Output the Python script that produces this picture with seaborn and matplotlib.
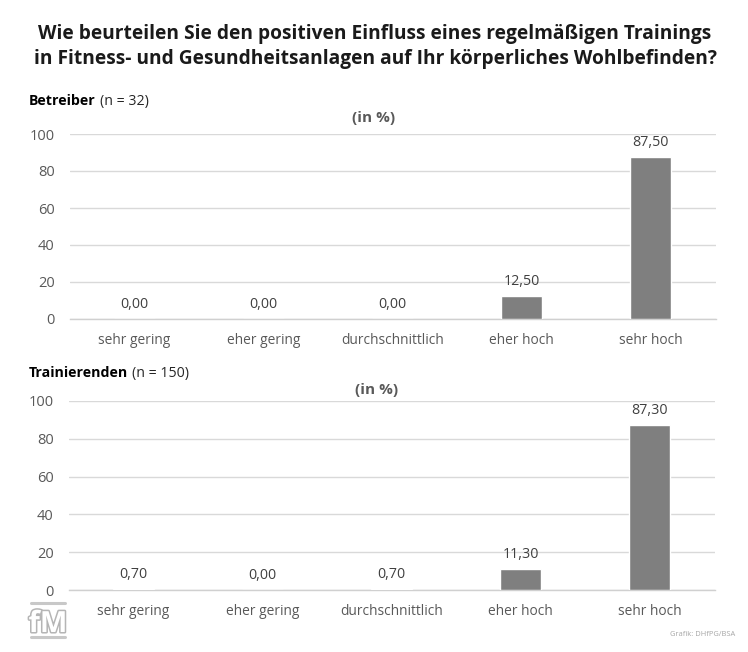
import matplotlib
matplotlib.use("Agg")
import matplotlib.pyplot as plt
import matplotlib.patheffects as pe
import seaborn as sns
import pandas as pd

categories = ["sehr gering", "eher gering", "durchschnittlich", "eher hoch", "sehr hoch"]
betreiber = [0.0, 0.0, 0.0, 12.5, 87.5]
trainierende = [0.7, 0.0, 0.7, 11.3, 87.3]
yticks = [0, 20, 40, 60, 80, 100]
title = ("Wie beurteilen Sie den positiven Einfluss eines regelmäßigen Trainings\n"
         "in Fitness- und Gesundheitsanlagen auf Ihr körperliches Wohlbefinden?")

sns.set_theme(style="white")
plt.rcParams["font.family"] = ["Open Sans", "DejaVu Sans"]
W, H = 748, 652
fig = plt.figure(figsize=(W / 100, H / 100), dpi=100, facecolor="white")


def axbox(l, t, r, b):
    return [l / W, 1 - b / H, (r - l) / W, (b - t) / H]


def panel(box, values):
    ax = fig.add_axes(axbox(*box))
    df = pd.DataFrame({"cat": categories, "val": values})
    sns.barplot(data=df, x="cat", y="val", color="#7f7f7f", saturation=1,
                width=0.32, ax=ax, zorder=3)
    ax.set_ylim(0, 100)
    ax.set_xlim(-0.5, 4.508)
    ax.set_yticks(yticks)
    ax.set_xlabel("")
    ax.set_ylabel("")
    ax.yaxis.grid(True, color="#d9d9d9", lw=1)
    ax.set_axisbelow(True)
    for s in ["top", "right", "left"]:
        ax.spines[s].set_visible(False)
    ax.spines["bottom"].set_color("#d0d0d0")
    ax.spines["bottom"].set_linewidth(1)
    ax.spines["bottom"].set_zorder(1)
    ax.tick_params(axis="y", length=0, pad=11, labelsize=10.5, labelcolor="#595959")
    ax.tick_params(axis="x", length=0, pad=10, labelsize=9.9, labelcolor="#595959")
    for i, v in enumerate(values):
        ax.annotate(f"{v:.2f}".replace(".", ","), (i, v), xytext=(0, 5),
                    textcoords="offset points", ha="center", va="bottom",
                    fontsize=10.3, color="#404040")
    return ax


panel((70, 134, 716, 319), betreiber)
panel((69, 401, 715, 590), trainierende)

fig.text(375 / W, 1 - 46.5 / H, title, ha="center", va="center", fontsize=13.8,
         fontweight="bold", color="#1a1a1a", linespacing=1.32)


def head(x, y, bold, rest):
    t = fig.text(x / W, 1 - y / H, bold, fontweight="bold", fontsize=10.2,
                 color="black", va="baseline")
    fig.canvas.draw()
    e = t.get_window_extent()
    fig.text((e.x1 + 4) / W, 1 - y / H, rest, fontsize=10.2, color="#262626", va="baseline")


head(29, 105, "Betreiber", "(n = 32)")
head(29, 377, "Trainierenden", "(n = 150)")

fig.text(374 / W, 1 - 118 / H, "(in %)", ha="center", va="center", fontsize=11,
         fontweight="bold", color="#595959")
fig.text(377 / W, 1 - 390 / H, "(in %)", ha="center", va="center", fontsize=11,
         fontweight="bold", color="#595959")

fig.text(735 / W, 1 - 634 / H, "Grafik: DHfPG/BSA", ha="right", va="center",
         fontsize=5.4, color="#a6a6a6")

# fM logo
fig.text(48 / W, 1 - 632 / H, "fM", ha="center", va="baseline", fontsize=21,
         fontweight="bold", color="white",
         path_effects=[pe.withStroke(linewidth=2.2, foreground="#b5b5b5")])
for yy in (603, 637):
    fig.add_artist(plt.Line2D([31 / W, 65 / W], [1 - yy / H] * 2, color="#c8c8c8", lw=2.2))

fig.savefig("out.png", dpi=100, facecolor="white")
